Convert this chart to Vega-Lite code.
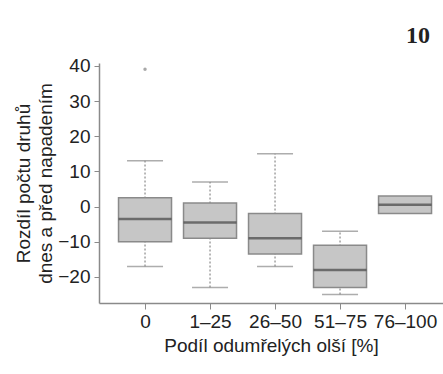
{
  "$schema": "https://vega.github.io/schema/vega-lite/v6.json",
  "autosize": {"type": "none"},
  "padding": {"left": 99, "top": 63, "right": 0, "bottom": 71},
  "width": 344,
  "height": 240,
  "background": "white",
  "config": {
    "view": {"stroke": null},
    "font": "Liberation Sans",
    "axis": {
      "domainColor": "#8a8a8a",
      "domainWidth": 1.5,
      "tickColor": "#8a8a8a",
      "tickWidth": 1,
      "tickSize": 5,
      "labelFont": "Liberation Sans",
      "labelFontSize": 19,
      "labelColor": "#222222",
      "titleFont": "Liberation Sans",
      "titleFontSize": 19,
      "titleFontWeight": "normal",
      "titleColor": "#222222",
      "grid": false,
      "labelOverlap": false
    }
  },
  "title": {
    "text": "10",
    "anchor": "end",
    "orient": "top",
    "font": "Liberation Serif",
    "fontSize": 24,
    "fontWeight": "bold",
    "color": "#222222",
    "offset": 9,
    "dx": -13
  },
  "datasets": {
    "boxes": [
      {"g": "0", "lo": -17, "q1": -10, "med": -3.5, "q3": 2.5, "hi": 13},
      {"g": "1–25", "lo": -23, "q1": -9, "med": -4.5, "q3": 1, "hi": 7},
      {"g": "26–50", "lo": -17, "q1": -13.5, "med": -9, "q3": -2, "hi": 15},
      {"g": "51–75", "lo": -25, "q1": -23, "med": -18, "q3": -11, "hi": -7},
      {"g": "76–100", "lo": null, "q1": -2, "med": 0.5, "q3": 3, "hi": null}
    ],
    "outliers": [
      {"g": "0", "v": 39}
    ]
  },
  "data": {"name": "boxes"},
  "encoding": {
    "x": {
      "field": "g",
      "type": "ordinal",
      "sort": null,
      "scale": {"type": "point", "padding": 0.646, "align": 0.548},
      "axis": {
        "title": "Podíl odumřelých olší [%]",
        "labelAngle": 0,
        "labelPadding": 3,
        "titlePadding": 5,
        "tickSize": 6
      }
    }
  },
  "layer": [
    {
      "mark": {"type": "rule", "color": "#8a8a8a", "strokeWidth": 1.2, "strokeDash": [2, 2]},
      "encoding": {
        "y": {
          "field": "lo",
          "type": "quantitative",
          "scale": {"domain": [-27.4, 40.8], "nice": false, "zero": false},
          "axis": {
            "title": ["Rozdíl počtu druhů", "dnes a před napadením"],
            "values": [-20, -10, 0, 10, 20, 30, 40],
            "labelPadding": 4,
            "titlePadding": 2,
            "titleLineHeight": 22
          }
        },
        "y2": {"field": "hi"}
      }
    },
    {
      "mark": {"type": "tick", "color": "#8a8a8a", "size": 36, "thickness": 1.5},
      "encoding": {"y": {"field": "lo", "type": "quantitative", "axis": {"title": ["Rozdíl počtu druhů", "dnes a před napadením"], "values": [-20, -10, 0, 10, 20, 30, 40], "labelPadding": 4, "titlePadding": 2, "titleLineHeight": 22}}}
    },
    {
      "mark": {"type": "tick", "color": "#8a8a8a", "size": 36, "thickness": 1.5},
      "encoding": {"y": {"field": "hi", "type": "quantitative", "axis": {"title": ["Rozdíl počtu druhů", "dnes a před napadením"], "values": [-20, -10, 0, 10, 20, 30, 40], "labelPadding": 4, "titlePadding": 2, "titleLineHeight": 22}}}
    },
    {
      "mark": {"type": "bar", "size": 53, "fill": "#c6c6c6", "stroke": "#8a8a8a", "strokeWidth": 1.5},
      "encoding": {
        "y": {"field": "q1", "type": "quantitative", "axis": {"title": ["Rozdíl počtu druhů", "dnes a před napadením"], "values": [-20, -10, 0, 10, 20, 30, 40], "labelPadding": 4, "titlePadding": 2, "titleLineHeight": 22}},
        "y2": {"field": "q3"}
      }
    },
    {
      "mark": {"type": "tick", "color": "#444444", "size": 53, "thickness": 2.5},
      "encoding": {"y": {"field": "med", "type": "quantitative", "axis": {"title": ["Rozdíl počtu druhů", "dnes a před napadením"], "values": [-20, -10, 0, 10, 20, 30, 40], "labelPadding": 4, "titlePadding": 2, "titleLineHeight": 22}}}
    },
    {
      "data": {"name": "outliers"},
      "mark": {"type": "point", "filled": true, "color": "#a8a8a8", "size": 12, "opacity": 1},
      "encoding": {"y": {"field": "v", "type": "quantitative", "axis": {"title": ["Rozdíl počtu druhů", "dnes a před napadením"], "values": [-20, -10, 0, 10, 20, 30, 40], "labelPadding": 4, "titlePadding": 2, "titleLineHeight": 22}}}
    }
  ]
}
